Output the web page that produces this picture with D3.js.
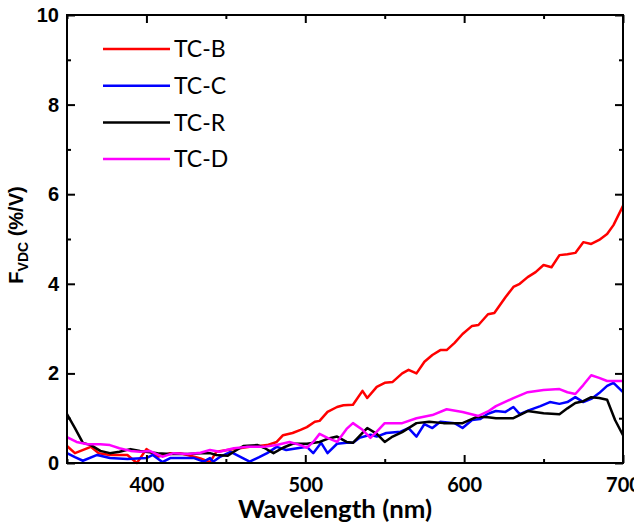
<!DOCTYPE html>
<html>
<head>
<meta charset="utf-8">
<script src="https://d3js.org/d3.v7.min.js"></script>
<style>
  body { margin: 0; background: #fff; }
  svg { display: block; }
</style>
</head>
<body>
<div id="chart"></div>
<script>
// wavelength (nm) and F_VDC (%/V)
var tcB = [[350,0.38],[355,0.22],[365,0.36],[370,0.22],[377,0.18],[388,0.18],[394,0.0],[400,0.31],[407,0.14],[415,0.22],[421,0.22],[430,0.14],[434,0.1],[440,0.02],[444,0.25],[451,0.29],[465,0.36],[476,0.4],[482,0.47],[486,0.62],[492,0.67],[497,0.74],[501,0.8],[506,0.92],[509,0.94],[514,1.14],[520,1.25],[524,1.29],[530,1.3],[536,1.61],[539,1.45],[545,1.7],[550,1.79],[555,1.81],[561,2.0],[565,2.08],[570,2.0],[575,2.26],[580,2.41],[585,2.52],[589,2.52],[594,2.68],[599,2.88],[605,3.06],[609,3.08],[615,3.32],[619,3.35],[626,3.7],[631,3.93],[635,4.0],[640,4.15],[645,4.26],[650,4.42],[655,4.37],[660,4.64],[665,4.66],[670,4.69],[675,4.93],[680,4.89],[685,4.98],[690,5.11],[694,5.31],[700,5.74]];
var tcC = [[350,0.22],[355,0.13],[360,0.05],[369,0.18],[377,0.11],[388,0.09],[400,0.11],[404,0.18],[410,0.02],[415,0.11],[430,0.11],[436,0.03],[440,0.11],[442,0.03],[446,0.13],[453,0.25],[465,0.03],[471,0.13],[476,0.22],[482,0.36],[488,0.29],[497,0.34],[501,0.36],[505,0.22],[510,0.45],[514,0.22],[520,0.43],[526,0.45],[530,0.45],[534,0.56],[541,0.63],[545,0.59],[551,0.67],[560,0.7],[565,0.78],[570,0.59],[575,0.87],[580,0.78],[585,0.92],[594,0.89],[599,0.78],[605,0.96],[610,0.98],[615,1.1],[620,1.16],[626,1.14],[631,1.25],[635,1.09],[641,1.18],[648,1.27],[654,1.36],[660,1.32],[665,1.36],[670,1.47],[675,1.36],[680,1.43],[685,1.56],[690,1.72],[694,1.79],[700,1.58]];
var tcR = [[350,1.09],[355,0.78],[360,0.45],[365,0.4],[371,0.27],[377,0.22],[383,0.25],[390,0.31],[396,0.27],[407,0.22],[415,0.2],[426,0.2],[434,0.22],[440,0.22],[444,0.18],[451,0.16],[455,0.25],[461,0.38],[470,0.4],[474,0.34],[480,0.22],[486,0.34],[492,0.43],[501,0.43],[509,0.47],[514,0.54],[520,0.59],[526,0.47],[530,0.45],[536,0.67],[539,0.78],[545,0.65],[550,0.47],[555,0.59],[561,0.69],[570,0.89],[578,0.92],[587,0.89],[594,0.89],[599,0.89],[608,1.03],[615,1.02],[620,1.0],[631,1.0],[640,1.16],[650,1.11],[660,1.09],[665,1.22],[670,1.34],[675,1.38],[680,1.47],[685,1.45],[690,1.41],[695,0.96],[700,0.62]];
var tcD = [[350,0.58],[356,0.47],[363,0.42],[371,0.42],[377,0.4],[383,0.33],[390,0.27],[396,0.25],[402,0.27],[410,0.14],[417,0.22],[426,0.2],[434,0.23],[440,0.29],[446,0.25],[455,0.33],[463,0.36],[474,0.36],[482,0.4],[490,0.47],[497,0.4],[501,0.34],[505,0.47],[509,0.65],[514,0.56],[520,0.47],[526,0.76],[530,0.89],[536,0.74],[541,0.56],[545,0.7],[550,0.89],[561,0.89],[570,1.0],[580,1.07],[589,1.2],[599,1.14],[609,1.05],[615,1.15],[620,1.27],[631,1.45],[640,1.58],[650,1.63],[660,1.65],[665,1.58],[670,1.54],[675,1.74],[680,1.96],[685,1.9],[690,1.83],[700,1.83]];

var seriesNames = ["TC-B", "TC-C", "TC-R", "TC-D"];
var seriesColors = ["#ff0000", "#0000ff", "#000000", "#ff00ff"];
var seriesData = [tcB, tcC, tcR, tcD];

var xMajor = [400, 500, 600, 700];
var xMinor = [350, 450, 550, 650];
var yMajor = [0, 2, 4, 6, 8, 10];
var yMinor = [1, 3, 5, 7, 9];

var width = 634, height = 527;
var margin = { top: 15, right: 11, bottom: 64, left: 67 };
var w = width - margin.left - margin.right;
var h = height - margin.top - margin.bottom;

var svg = d3.select("#chart").append("svg")
  .attr("width", width)
  .attr("height", height);

var g = svg.append("g")
  .attr("transform", "translate(" + margin.left + "," + margin.top + ")");

var x = d3.scaleLinear().domain([350, 700]).range([0, w]);
var y = d3.scaleLinear().domain([0, 10]).range([h, 0]);

var line = d3.line()
  .x(function (d) { return x(d[0]); })
  .y(function (d) { return y(d[1]); });

// curves first, frame on top
seriesData.forEach(function (data, i) {
  g.append("path")
    .datum(data)
    .attr("fill", "none")
    .attr("stroke", seriesColors[i])
    .attr("stroke-width", 2.5)
    .attr("stroke-linejoin", "round")
    .attr("d", line);
});

function styleAxis(sel) {
  sel.select(".domain").remove();
  sel.selectAll(".tick line").attr("stroke", "#000").attr("stroke-width", 2);
}

// bottom
g.append("g").attr("transform", "translate(0," + h + ")")
  .call(d3.axisBottom(x).tickValues(xMajor).tickSize(-8).tickPadding(15).tickFormat(d3.format("d")))
  .call(styleAxis)
  .selectAll("text")
  .attr("fill", "#000")
  .style("font-family", "Lato, 'Open Sans', sans-serif")
  .style("font-weight", "bold")
  .style("font-size", "20px");
g.append("g").attr("transform", "translate(0," + h + ")")
  .call(d3.axisBottom(x).tickValues(xMinor).tickSize(-4).tickFormat(""))
  .call(styleAxis);
// top
g.append("g")
  .call(d3.axisTop(x).tickValues(xMajor).tickSize(-8).tickFormat(""))
  .call(styleAxis);
g.append("g")
  .call(d3.axisTop(x).tickValues(xMinor).tickSize(-4).tickFormat(""))
  .call(styleAxis);
// left
g.append("g")
  .call(d3.axisLeft(y).tickValues(yMajor).tickSize(-8).tickPadding(8).tickFormat(d3.format("d")))
  .call(styleAxis)
  .selectAll("text")
  .attr("fill", "#000")
  .style("font-family", "'Liberation Sans', Arial, sans-serif")
  .style("font-weight", "bold")
  .style("font-size", "20px");
g.append("g")
  .call(d3.axisLeft(y).tickValues(yMinor).tickSize(-4).tickFormat(""))
  .call(styleAxis);
// right
g.append("g").attr("transform", "translate(" + w + ",0)")
  .call(d3.axisRight(y).tickValues(yMajor).tickSize(-8).tickFormat(""))
  .call(styleAxis);
g.append("g").attr("transform", "translate(" + w + ",0)")
  .call(d3.axisRight(y).tickValues(yMinor).tickSize(-4).tickFormat(""))
  .call(styleAxis);

g.append("rect")
  .attr("width", w)
  .attr("height", h)
  .attr("fill", "none")
  .attr("stroke", "#000")
  .attr("stroke-width", 2);

// axis titles
svg.append("text")
  .attr("x", 335)
  .attr("y", 518)
  .attr("text-anchor", "middle")
  .attr("textLength", 194)
  .attr("lengthAdjust", "spacingAndGlyphs")
  .style("font-family", "Lato, 'Open Sans', sans-serif")
  .style("font-weight", "bold")
  .style("font-size", "24px")
  .text("Wavelength (nm)");

var yt = svg.append("text")
  .attr("transform", "translate(23,235) rotate(-90)")
  .attr("text-anchor", "middle")
  .style("font-family", "'Liberation Sans', Arial, sans-serif")
  .style("font-weight", "bold")
  .style("font-size", "20px");
yt.append("tspan").text("F");
yt.append("tspan").attr("dy", 5).style("font-size", "14px").text("VDC");
yt.append("tspan").attr("dy", -5).text(" (%/V)");

// legend
var legend = g.append("g").attr("transform", "translate(36,34)");
seriesNames.forEach(function (name, i) {
  var row = legend.append("g").attr("transform", "translate(0," + (i * 36.7) + ")");
  row.append("line")
    .attr("x1", 0).attr("x2", 67)
    .attr("stroke", seriesColors[i])
    .attr("stroke-width", 2.5);
  row.append("text")
    .attr("x", 71)
    .attr("dy", "0.36em")
    .style("font-family", "Lato, 'Open Sans', sans-serif")
    .style("font-size", "23px")
    .text(name);
});
</script>
</body>
</html>
